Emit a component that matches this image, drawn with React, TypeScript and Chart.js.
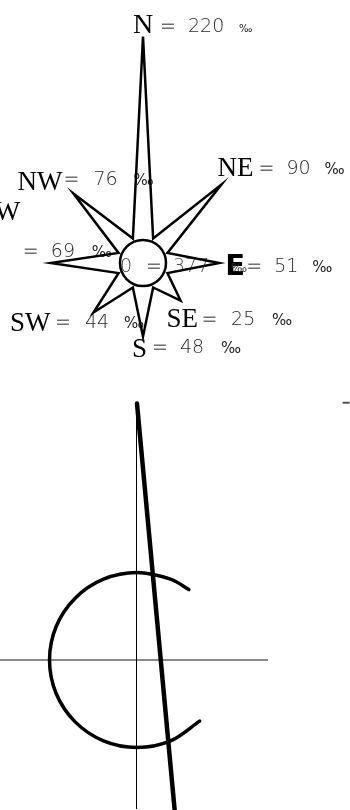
import React, { useEffect, useRef } from 'react';
import { Chart, registerables } from 'chart.js';

Chart.register(...registerables);

// ---- Wind rose data (‰) ----
const directions = ['N', 'NE', 'E', 'SE', 'S', 'SW', 'W', 'NW'];
const frequencies = [220, 90, 51, 25, 48, 44, 69, 76];
const calmLabel = '0';
const calmFrequency = 377;
const unitLabel = '‰';
const spikeBase = -5; // value of the star's inner (valley) points

// ---- Lower panel data ----
const capArcX = [0.593, 0.383, 0, -0.383, -0.707, -0.924, -1, -0.924, -0.707, -0.383, 0, 0.383, 0.716];
const capArcY = [0.805, 0.924, 1, 0.924, 0.707, 0.383, 0, -0.383, -0.707, -0.924, -1, -0.924, -0.698];
const strokeX = [0, 0.43];
const strokeY = [2.93, -1.71];
const markX = [2.35, 2.43];
const markY = [2.94, 2.94];

// ---- label layout (offsets from each spike tip) ----
type Lay = {
  abbr: [number, number];
  eq: [number, number];
  val: [number, number];
  unit: [number, number];
  unitSize?: number;
  abbrFont?: string;
};
const labelLayout: Record<string, Lay> = {
  N: { abbr: [-10, -4], eq: [19, -5], val: [47, -5], unit: [97, -5], unitSize: 10, abbrFont: "28px 'Liberation Serif'" },
  NE: { abbr: [-4, -9], eq: [39, -11], val: [67, -11], unit: [104, -11] },
  E: { abbr: [6, 12], eq: [29, 9], val: [57, 9], unit: [94, 9], abbrFont: "bold 29px 'DejaVu Sans'" },
  SE: { abbr: [-14, 26.5], eq: [23, 24.5], val: [52.5, 24.5], unit: [92.5, 24.5] },
  S: { abbr: [-11, 20.5], eq: [11, 16.5], val: [39, 16.5], unit: [79, 16.5] },
  SW: { abbr: [-83.5, 18.5], eq: [-36.5, 15.5], val: [-6.5, 15.5], unit: [31.5, 15.5] },
  W: { abbr: [-56, -43], eq: [-26, -6], val: [2, -6], unit: [42, -6] },
  NW: { abbr: [-56, -3], eq: [-8, -8], val: [22, -8], unit: [61, -8] },
};

const ABBR_FONT = "27px 'Liberation Serif'";
const EQ_FONT = "19px 'DejaVu Sans'";
const VAL_FONT = "200 19px 'DejaVu Sans'";

const roseLabels = {
  id: 'roseLabels',
  beforeDatasetsDraw(chart: any) {
    const s = chart.scales.r;
    const ctx = chart.ctx;
    ctx.save();
    ctx.textAlign = 'left';
    ctx.textBaseline = 'alphabetic';
    directions.forEach((d, i) => {
      const tip = s.getPointPositionForValue(i * 2, frequencies[i]);
      const L = labelLayout[d];
      ctx.font = L.abbrFont || ABBR_FONT;
      ctx.fillStyle = '#000';
      ctx.fillText(d, tip.x + L.abbr[0], tip.y + L.abbr[1]);
      ctx.font = EQ_FONT;
      ctx.fillStyle = '#707070';
      ctx.fillText('=', tip.x + L.eq[0] - 2, tip.y + L.eq[1]);
      ctx.font = VAL_FONT;
      ctx.fillStyle = '#2a2a2a';
      ctx.fillText(String(frequencies[i]), tip.x + L.val[0] - 2, tip.y + L.val[1]);
      ctx.font = `${L.unitSize || 15}px 'DejaVu Sans'`;
      ctx.fillStyle = '#222';
      ctx.fillText(unitLabel, tip.x + L.unit[0] - 1, tip.y + L.unit[1]);
    });
    // calm label in the centre
    const cx = s.xCenter;
    const cy = s.yCenter;
    ctx.font = VAL_FONT;
    ctx.fillStyle = '#444';
    ctx.fillText(calmLabel, cx - 23, cy + 9);
    ctx.font = EQ_FONT;
    ctx.fillStyle = '#707070';
    ctx.fillText('=', cx + 3, cy + 9);
    ctx.font = VAL_FONT;
    ctx.fillStyle = '#555';
    ctx.fillText(String(calmFrequency), cx + 30, cy + 9);
    ctx.font = "12px 'DejaVu Sans'";
    ctx.fillStyle = '#333';
    ctx.fillText(unitLabel, cx + 88, cy + 9);
    ctx.restore();
  },
  afterDatasetsDraw(chart: any) {
    const s = chart.scales.r;
    const ctx = chart.ctx;
    ctx.save();
    ctx.beginPath();
    ctx.arc(s.xCenter, s.yCenter, 23, 0, Math.PI * 2);
    ctx.lineWidth = 2.5;
    ctx.strokeStyle = '#000';
    ctx.stroke();
    ctx.restore();
  },
};

export default function App() {
  const topRef = useRef<HTMLCanvasElement>(null);
  const botRef = useRef<HTMLCanvasElement>(null);

  useEffect(() => {
    const radarLabels = directions.flatMap((d) => [d, '']);
    const radarData = frequencies.flatMap((v) => [v, spikeBase]);

    const c1 = new Chart(topRef.current as HTMLCanvasElement, {
      type: 'radar',
      data: {
        labels: radarLabels,
        datasets: [
          {
            data: radarData,
            borderColor: '#000',
            borderWidth: 2.5,
            backgroundColor: 'rgba(0,0,0,0)',
            fill: false,
            pointRadius: 0,
            pointHoverRadius: 0,
            tension: 0,
            borderJoinStyle: 'miter',
            clip: false,
          } as any,
        ],
      },
      options: {
        animation: false,
        responsive: false,
        events: [],
        layout: { padding: { left: 23, right: 87, top: 143, bottom: 17 } },
        plugins: { legend: { display: false }, tooltip: { enabled: false } },
        scales: {
          r: {
            display: false,
            min: -34.8,
            max: 100.3,
            pointLabels: { display: false },
            ticks: { display: false },
            grid: { display: false },
            angleLines: { display: false },
          },
        },
      } as any,
      plugins: [roseLabels],
    });

    const pts = (xs: number[], ys: number[]) => xs.map((x, i) => ({ x, y: ys[i] }));

    const c2 = new Chart(botRef.current as HTMLCanvasElement, {
      type: 'scatter',
      data: {
        datasets: [
          {
            data: pts(capArcX, capArcY),
            showLine: true,
            tension: 0.343,
            borderColor: '#000',
            borderWidth: 3.5,
            borderCapStyle: 'round',
            borderJoinStyle: 'round',
            pointRadius: 0,
            fill: false,
            clip: false,
          } as any,
          {
            data: pts(strokeX, strokeY),
            showLine: true,
            borderColor: '#000',
            borderWidth: 4.5,
            borderCapStyle: 'round',
            pointRadius: 0,
            fill: false,
            clip: false,
          } as any,
          {
            data: pts(markX, markY),
            showLine: true,
            borderColor: '#555',
            borderWidth: 2,
            pointRadius: 0,
            fill: false,
            clip: false,
          } as any,
        ],
      },
      options: {
        animation: false,
        responsive: false,
        events: [],
        layout: { padding: { left: 0, right: 83, top: 5, bottom: 2 } },
        plugins: { legend: { display: false }, tooltip: { enabled: false } },
        scales: {
          x: {
            type: 'linear',
            min: -1.566,
            max: 1.486,
            position: { y: 0 },
            grid: { display: false, drawTicks: false },
            ticks: { display: false },
            border: { display: true, color: '#8a8a8a', width: 2 },
          },
          y: {
            type: 'linear',
            min: -1.691,
            max: 2.914,
            position: { x: 0 },
            grid: { display: false, drawTicks: false },
            ticks: { display: false },
            border: { display: true, color: '#000', width: 1 },
          },
        },
      } as any,
    });

    return () => {
      c1.destroy();
      c2.destroy();
    };
  }, []);

  return (
    <div
      style={{
        position: 'fixed',
        left: 0,
        top: 0,
        width: 350,
        height: 810,
        overflow: 'hidden',
        background: '#fff',
      }}
    >
      <canvas
        ref={topRef}
        width={350}
        height={400}
        style={{ position: 'absolute', left: 0, top: 0, width: 350, height: 400, display: 'block' }}
      />
      <canvas
        ref={botRef}
        width={350}
        height={410}
        style={{ position: 'absolute', left: 0, top: 400, width: 350, height: 410, display: 'block' }}
      />
    </div>
  );
}
